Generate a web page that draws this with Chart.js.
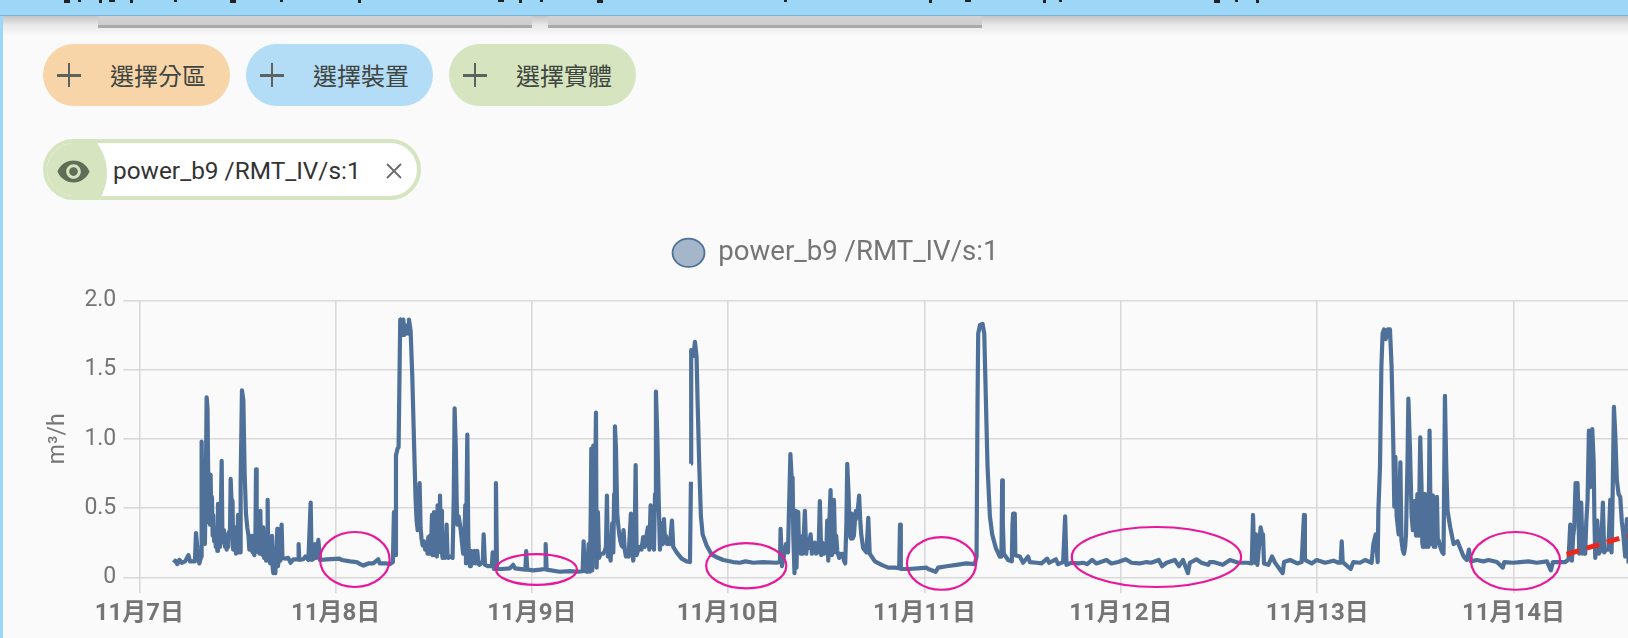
<!DOCTYPE html>
<html lang="zh-Hant">
<head>
<meta charset="utf-8">
<title>power_b9</title>
<script src="https://cdn.jsdelivr.net/npm/chart.js@4/dist/chart.umd.min.js"></script>
<style>
html,body{margin:0;padding:0;width:1628px;height:638px;overflow:hidden;background:#fafafa;font-family:Roboto,"Noto Sans CJK TC",sans-serif}
body{filter:blur(.45px)}
.abs{position:absolute}
#edge{left:0;top:0;width:3px;height:638px;background:#9dd7f8}
#bar{left:0;top:0;width:1628px;height:15px;background:#9dd7f8;border-bottom:1px solid #7fb3d6;z-index:3}
#shade{left:3px;top:16px;width:1625px;height:20px;background:linear-gradient(#c4c4c4,#e8e8e8 45%,#fafafa)}
.tab{top:25px;height:2.5px;background:#a9a9a9}
.tabs{top:16px;height:10px;background:linear-gradient(#d2d2d2,#cdcdcd)}
.mark{top:0;background:#222;z-index:4}
.btn{top:44px;height:62px;border-radius:31px;width:187px}
.plus{top:63px;width:24px;height:24px;}
.plus:before,.plus:after{content:"";position:absolute;background:#5d625c}
.plus:before{left:0;top:11px;width:24px;height:2.5px}
.plus:after{left:10.8px;top:0;width:2.5px;height:24px}
.lbl{top:59px;font:400 24px/32px "Noto Sans CJK TC";color:#3f4540;white-space:nowrap}
#chip{left:43px;top:139px;width:378px;height:61px;box-sizing:border-box;border:4px solid #d6e5bf;border-radius:31px;background:#fff;overflow:hidden}
#chipL{left:-40px;top:-20px;width:100px;height:100px;border-radius:50%;background:#d6e5bf}
#eye{left:56px;top:154px;width:35px;height:35px}
#chipT{left:113px;top:155px;font:400 24.4px/32px Roboto;color:#333;white-space:nowrap}
#chipX{left:385px;top:162px;width:18px;height:18px}
#cv{position:absolute;left:43px;top:215px}
</style>
</head>
<body>
<div class="abs" id="shade"></div>
<div class="abs tabs" style="left:98px;width:434px"></div>
<div class="abs tabs" style="left:548px;width:434px"></div>
<div class="abs tab" style="left:98px;width:434px"></div>
<div class="abs tab" style="left:548px;width:434px"></div>
<div class="abs" id="bar"></div>
<div class="abs" id="edge"></div>
<div id="marks"></div>

<div class="abs btn" style="left:43px;background:#f8d5a9"></div>
<div class="abs plus" style="left:57px"></div>
<div class="abs lbl" style="left:110px">選擇分區</div>
<div class="abs btn" style="left:246px;background:#b3dcf7"></div>
<div class="abs plus" style="left:260px"></div>
<div class="abs lbl" style="left:313px">選擇裝置</div>
<div class="abs btn" style="left:449px;background:#d6e5bf"></div>
<div class="abs plus" style="left:463px"></div>
<div class="abs lbl" style="left:516px">選擇實體</div>

<div class="abs" id="chip"><div class="abs" id="chipL"></div></div>
<svg class="abs" id="eye" viewBox="0 0 24 24"><path fill="#5f6f57" d="M12 4.5C7 4.5 2.73 7.61 1 12c1.73 4.39 6 7.5 11 7.5s9.27-3.11 11-7.5c-1.73-4.39-6-7.5-11-7.5zM12 17c-2.76 0-5-2.24-5-5s2.24-5 5-5 5 2.24 5 5-2.24 5-5 5zm0-8c-1.66 0-3 1.34-3 3s1.34 3 3 3 3-1.34 3-3-1.34-3-3-3z"/></svg>
<div class="abs" id="chipT">power_b9 /RMT_IV/s:1</div>
<svg class="abs" id="chipX" viewBox="0 0 18 18"><path d="M2 2L16 16M16 2L2 16" stroke="#6a6a6a" stroke-width="1.8"/></svg>

<canvas id="cv" width="1585" height="423" style="width:1585px;height:423px"></canvas>

<script>
const seriesName = 'power_b9 /RMT_IV/s:1';
const yTitle = 'm³/h';
const xTickLabels = ['11月7日','11月8日','11月9日','11月10日','11月11日','11月12日','11月13日','11月14日'];

// Readings as [hours since 11月7日 00:00, m³/h].
const nov7 = [[4.2,.105],[4.4,.12],[4.65,.095],[4.9,.125],[5.2,.105],[5.6,.115],[6.0,.16],[6.2,.115],[6.8,.115],[6.93,.32],[7.1,.21],[7.34,.10],[7.58,.15],[7.62,.98],[7.72,.45],[7.8,.62],[7.88,.30],[7.95,.55],[8.02,.24],[8.12,.60],[8.23,1.30],[8.34,1.22],[8.42,.75],[8.48,.40],[8.56,.62],[8.64,.38],[8.72,.74],[8.8,.40],[8.88,.58],[8.97,.30],[9.05,.45],[9.15,.26],[9.25,.36],[9.35,.22],[9.45,.32],[9.54,.19],[9.62,.53],[9.7,.24],[9.78,.52],[9.86,.22],[9.95,.40],[10.07,.84],[10.15,.35],[10.25,.25],[10.35,.34],[10.48,.22],[10.58,.31],[10.68,.20],[10.78,.30],[10.88,.22],[10.98,.33],[11.08,.30],[11.17,.71],[11.27,.56],[11.33,.30],[11.4,.55],[11.47,.20],[11.58,.32],[11.7,.36],[11.82,.17],[11.92,.36],[12.0,.20],[12.07,.45],[12.17,.18],[12.27,.40],[12.33,.18],[12.39,.69],[12.55,1.35],[12.72,1.28],[12.88,.75],[13.04,.46],[13.2,.36],[13.35,.30],[13.45,.20],[13.55,.28],[13.65,.20],[13.75,.30],[13.85,.18],[13.95,.28],[14.06,.16],[14.2,.30],[14.27,.78],[14.35,.22],[14.45,.33],[14.55,.18],[14.63,.34],[14.72,.17],[14.8,.48],[14.88,.17],[15,.32],[15.1,.16],[15.16,.36],[15.25,.14],[15.37,.30],[15.5,.12],[15.62,.25],[15.69,.56],[15.77,.12],[15.9,.22],[16.0,.10],[16.1,.18],[16.22,.30],[16.32,.06],[16.39,.03],[16.5,.14],[16.63,.03],[16.72,.14],[16.87,.35],[16.95,.08],[17.1,.15],[17.25,.12],[17.4,.38],[17.5,.14],[17.8,.135],[18.2,.14],[18.5,.105],[18.83,.13],[19.44,.13],[19.48,.24],[19.56,.125],[20.05,.13],[20.3,.15],[20.67,.125],[20.95,.54],[21.07,.125],[21.44,.14],[21.48,.24],[21.68,.14],[21.89,.27],[22.09,.125],[22.9,.13],[24.5,.135]];
const nov8 = [[24.74,.125],[25.76,.115],[26.57,.11],[27,.095],[27.4,.085],[28,.10],[28.6,.10],[29.2,.13],[29.4,.10],[30.2,.10],[30.65,.095],[31,.11],[31.13,.47],[31.3,.16],[31.38,.88],[31.58,.93],[31.7,.94],[31.9,1.86],[31.97,1.76],[32.03,1.80],[32.15,1.75],[32.28,1.86],[32.4,1.75],[32.5,1.82],[32.6,1.76],[32.76,1.80],[32.88,1.76],[32.97,1.86],[33.17,1.78],[33.38,1.44],[33.58,.99],[33.78,.56],[33.9,.41],[34.03,.34],[34.15,.50],[34.27,.68],[34.39,.36],[34.5,.28],[34.64,.23],[34.8,.26],[34.95,.20],[35.13,.22],[35.25,.17],[35.33,.29],[35.45,.17],[35.53,.30],[35.65,.17],[35.78,.45],[35.86,.16],[35.94,.40],[36.02,.47],[36.12,.16],[36.27,.42],[36.38,.15],[36.47,.52],[36.55,.18],[36.65,.48],[36.76,.59],[36.85,.30],[36.92,.48],[37.0,.18],[37.08,.14],[37.25,.27],[37.37,.14],[37.47,.26],[37.57,.38],[37.68,.15],[37.78,.14],[38.0,.15],[38.3,.14],[38.45,.60],[38.55,1.22],[38.7,.92],[38.8,.55],[38.88,.38],[38.96,.42],[39.04,.44],[39.15,.40],[39.28,.35],[39.4,.28],[39.5,.22],[39.6,.17],[39.75,.30],[39.85,.52],[39.94,.10],[40.02,.60],[40.1,1.03],[40.22,.27],[40.32,.15],[40.43,.08],[40.53,.12],[40.63,.19],[40.75,.10],[40.87,.12],[41.0,.19],[41.1,.10],[41.32,.19],[41.45,.10],[41.57,.09],[41.8,.10],[42.0,.12],[42.1,.31],[42.26,.09],[42.6,.08],[42.87,.08],[43.1,.08],[43.2,.18],[43.36,.06],[43.5,.06],[43.6,.68],[43.73,.06],[44.3,.06],[45.3,.065],[45.7,.09],[45.93,.065],[47.2,.055],[47.3,.19],[47.43,.055]];
const nov9 = [[48.17,.05],[49,.055],[49.6,.06],[49.68,.24],[49.8,.055],[51.4,.04],[52.65,.045],[53.67,.04],[54.2,.045],[54.32,.26],[54.44,.045],[54.77,.04],[54.93,.24],[55.09,.04],[55.2,.50],[55.26,.93],[55.38,.05],[55.5,.95],[55.66,.31],[55.83,1.19],[55.91,.07],[56.07,.47],[56.2,.14],[56.4,.17],[56.72,.17],[56.9,.19],[57.05,.22],[57.17,.59],[57.29,.15],[57.45,.18],[57.62,.12],[57.75,.28],[57.82,.39],[57.95,.18],[58.05,.60],[58.15,1.09],[58.27,.94],[58.43,.46],[58.55,.38],[58.68,.31],[58.82,.26],[58.96,.23],[59.08,.22],[59.2,.34],[59.35,.20],[59.49,.15],[59.65,.17],[59.82,.15],[59.95,.30],[60.1,.46],[60.25,.20],[60.39,.12],[60.55,.25],[60.68,.81],[60.8,.16],[61,.20],[61.2,.22],[61.4,.20],[61.6,.29],[61.82,.22],[62,.30],[62.18,.36],[62.35,.20],[62.51,.52],[62.67,.22],[62.8,.40],[62.92,.20],[63.05,.60],[63.16,1.34],[63.32,1.04],[63.53,.48],[63.65,.20],[63.75,.35],[63.85,.39],[63.98,.24],[64.14,.42],[64.28,.25],[64.38,.30],[64.52,.24],[64.67,.28],[64.87,.24],[65.12,.41],[65.28,.22],[65.69,.18],[66.3,.135],[66.91,.115],[67.32,.11],[67.44,.69],[67.445,null],[67.45,.82],[67.47,1.64],[67.75,1.60],[67.93,1.70],[68.13,1.59],[68.25,1.28],[68.46,.80],[68.66,.44],[68.87,.31],[69.36,.23],[69.97,.165],[70.58,.145],[71.4,.125]];
const nov10 = [[72.6,.11],[73.43,.105],[74.1,.115],[75.06,.105],[76.28,.11],[77.9,.105],[78.32,.11],[78.4,.35],[78.57,.08],[78.8,.15],[79.05,.24],[79.3,.18],[79.6,.89],[79.75,.72],[79.87,.72],[79.95,.31],[80.1,.03],[80.19,.48],[80.27,.18],[80.35,.07],[80.45,.40],[80.56,.47],[80.66,.18],[80.76,.30],[80.86,.17],[80.97,.25],[81.09,.17],[81.23,.30],[81.37,.48],[81.54,.17],[81.66,.28],[81.78,.21],[81.92,.24],[82.07,.31],[82.23,.17],[82.4,.22],[82.6,.25],[82.75,.17],[82.88,.20],[83.04,.18],[83.2,.55],[83.37,.16],[83.5,.25],[83.6,.24],[83.73,.17],[83.86,.20],[84.0,.20],[84.1,.41],[84.23,.12],[84.38,.42],[84.51,.63],[84.67,.16],[84.8,.40],[84.92,.56],[85.08,.18],[85.2,.30],[85.33,.19],[85.57,.14],[85.8,.17],[85.98,.17],[86.15,.12],[86.3,.10],[86.45,.40],[86.55,.82],[86.71,.60],[86.87,.30],[87.0,.28],[87.1,.46],[87.22,.28],[87.36,.30],[87.5,.42],[87.6,.48],[87.8,.46],[88,.59],[88.13,.42],[88.26,.31],[88.5,.21],[88.9,.18],[89.12,.43],[89.3,.17],[89.93,.115],[90.75,.09],[91.56,.07],[92.4,.07],[92.9,.065],[93,.38],[93.1,.06],[94,.06],[95.2,.065]];
const nov11 = [[96.25,.07],[96.45,.06],[97.35,.04],[97.67,.07],[98.7,.08],[99.9,.09],[101.1,.10],[102.15,.095],[102.36,.15],[102.48,1.28],[102.56,1.76],[102.77,1.82],[103.09,1.83],[103.3,1.76],[103.5,1.28],[103.7,.80],[103.99,.44],[104.27,.31],[104.72,.21],[105.2,.15],[105.4,.15],[105.49,.70],[105.57,.39],[105.69,.17],[106.22,.125],[106.67,.115],[106.75,.38],[106.83,.46],[107.03,.46],[107.1,.16],[107.65,.15],[108.05,.105],[108.66,.15],[108.87,.11],[109.68,.105],[110.3,.10],[110.99,.135],[111.23,.105],[112.05,.13],[112.33,.095],[112.94,.11],[113.19,.44],[113.35,.09],[113.96,.105],[114.78,.10],[115.4,.105],[115.88,.095],[116.49,.125],[117,.10],[118.24,.125],[118.85,.10]];
const nov12 = [[119.67,.11],[120.6,.13],[121.3,.105],[122.3,.10],[123.13,.11],[123.7,.105],[124.64,.125],[125.05,.08],[125.58,.105],[126.6,.125],[127.1,.08],[127.6,.125],[128.2,.03],[128.43,.105],[129.24,.13],[129.85,.105],[130.67,.09],[130.87,.11],[131.3,.11],[132.45,.09],[133.35,.125],[134.36,.105],[135.4,.105],[136,.10],[136.16,.45],[136.32,.105],[136.52,.31],[136.69,.09],[137.09,.36],[137.26,.31],[137.38,.31],[137.5,.10],[138.03,.09],[138.48,.15],[138.85,.105],[139.78,.03],[139.95,.11],[140.68,.125],[141.58,.10],[142.1,.11],[142.39,.45],[142.5,.125],[143.33,.10]];
const nov13 = [[143.94,.125],[144.96,.105],[146,.12],[146.6,.105],[146.87,.105],[147,.26],[147.12,.11],[148.1,.06],[148.42,.11],[149.24,.105],[149.85,.125],[150.66,.105],[150.87,.24],[151.15,.31],[151.4,.11],[151.48,.48],[151.68,.80],[151.85,1.52],[152.0,1.76],[152.17,1.79],[152.38,1.72],[152.62,1.79],[152.9,1.79],[153.1,1.52],[153.3,.99],[153.43,.51],[153.56,.87],[153.72,.44],[153.96,.31],[154.08,.60],[154.17,.83],[154.3,.27],[154.45,.20],[154.62,.17],[154.75,.22],[154.86,.31],[155.05,.85],[155.15,1.29],[155.35,.92],[155.55,.44],[155.7,.34],[155.9,.55],[156.09,.30],[156.25,.60],[156.4,.30],[156.5,.60],[156.6,1.01],[156.76,.65],[156.85,.25],[156.93,.22],[157.02,.50],[157.09,.60],[157.18,.22],[157.3,.50],[157.4,.22],[157.5,.59],[157.6,.22],[157.74,1.06],[157.9,.24],[158.0,.58],[158.15,.59],[158.25,.22],[158.35,.55],[158.45,.22],[158.64,.58],[158.75,.25],[158.84,.27],[159.1,.21],[159.3,.18],[159.45,.17],[159.62,1.31],[159.78,.80],[159.94,.48],[160.27,.36],[160.68,.24],[161.16,.26],[161.49,.21],[161.9,.15],[162.3,.125],[162.55,.20],[162.8,.115],[163.5,.125],[164.34,.115],[164.95,.125],[165.97,.11],[166.7,.07],[166.87,.11]];
const nov14 = [[168,.105],[168.8,.11],[169.84,.115],[170.86,.105],[172.09,.115],[172.57,.05],[172.82,.11],[173.7,.11],[174.33,.11],[174.73,.13],[174.94,.38],[175.14,.12],[175.3,.30],[175.43,.36],[175.59,.68],[175.83,.68],[175.95,.45],[176.04,.17],[176.16,.40],[176.28,.54],[176.45,.17],[176.6,.22],[176.77,.17],[176.9,.40],[177.06,.56],[177.22,1.06],[177.38,.65],[177.5,.70],[177.63,1.07],[177.8,.84],[177.9,.40],[178,.14],[178.24,.41],[178.44,.17],[178.7,.20],[178.93,.54],[179.09,.18],[179.3,.20],[179.6,.20],[179.83,.56],[179.99,.18],[180.1,.50],[180.28,1.23],[180.44,1.04],[180.64,.70],[180.85,.60],[181.05,.58],[181.25,.40],[181.38,.34],[181.66,.15],[181.86,.42],[182.07,.10]];
const readings = [...nov7,...nov8,...nov9,...nov10,...nov11,...nov12,...nov13,...nov14];

// hand-drawn annotations, in the same hours and m³/h units
const arrowHours = [174.5, 182];
const arrowFlow = [.166, .30];
const circleFromHour = [22.1, 43.6, 69.3, 93.85, 114, 162.8];
const circleToHour = [30.6, 53.5, 79.1, 102.3, 134.7, 173.7];
const circleLowFlow = [-.07, -.055, -.08, -.09, -.07, -.09];
const circleHighFlow = [.327, .168, .247, .29, .363, .327];
const clippedTextMarks = [64,78,99,109,130,174,230,280,358,498,519,540,597,784,929,965,1043,1059,1214,1235,1256];

clippedTextMarks.forEach((x,i)=>{
  const d=document.createElement('div');
  d.className='abs mark';
  d.style.left=x+'px';
  d.style.width=(i%3===0?6:3)+'px';
  d.style.height=(i%2===0?3:2)+'px';
  document.getElementById('marks').appendChild(d);
});

const circles = {
  id:'circles',
  afterDatasetsDraw(chart){
    const {ctx,scales:{x,y}} = chart;
    ctx.save();
    ctx.strokeStyle='#e9189b';
    ctx.lineWidth=2.2;
    circleFromHour.forEach((from,i)=>{
      const x0=x.getPixelForValue(from), x1=x.getPixelForValue(circleToHour[i]);
      const y0=y.getPixelForValue(circleHighFlow[i]), y1=y.getPixelForValue(circleLowFlow[i]);
      ctx.beginPath();
      ctx.ellipse((x0+x1)/2,(y0+y1)/2,(x1-x0)/2,(y1-y0)/2,0,0,Math.PI*2);
      ctx.stroke();
    });
    ctx.restore();
  }
};
const legendHeight = {
  id:'legendHeight',
  beforeInit(chart){
    const fit=chart.legend.fit;
    chart.legend.fit=function(){fit.call(this);this.height=85.3;};
  }
};

const fontFamily='Roboto,"Noto Sans CJK TC",sans-serif';
const grey='#757575';
new Chart(document.getElementById('cv'),{
  type:'line',
  data:{datasets:[
    {label:'annotation',data:arrowHours.map((h,i)=>({x:h,y:arrowFlow[i]})),borderColor:'#e8281c',borderWidth:5,borderDash:[13,8],pointRadius:0,order:0},
    {label:seriesName,data:readings.map(r=>({x:r[0],y:r[1]})),borderColor:'#4f7199',backgroundColor:'rgba(79,113,153,.5)',borderWidth:4.2,pointRadius:0,tension:0,spanGaps:false,borderJoinStyle:'round',order:1}
  ]},
  options:{
    responsive:false,animation:false,
    layout:{padding:0},
    plugins:{
      title:{display:false},tooltip:{enabled:false},
      legend:{display:true,position:'top',
        labels:{
          generateLabels(chart){
            return Chart.defaults.plugins.legend.labels.generateLabels(chart).map(l=>({...l,lineWidth:1.8}));
          },
          filter:item=>item.text===seriesName,usePointStyle:true,pointStyle:'circle',pointStyleWidth:32,boxHeight:20,padding:24,color:grey,font:{family:fontFamily,size:27.6}}
      }
    },
    scales:{
      x:{type:'linear',min:0,max:182,
        afterFit(s){s.height=60.7;},
        afterBuildTicks(s){s.ticks=xTickLabels.map((_,i)=>({value:i*24}));},
        grid:{color:'#d9d9d9',lineWidth:1.6,tickLength:16,tickColor:'#d9d9d9',drawOnChartArea:true},
        border:{display:false},
        ticks:{autoSkip:false,maxRotation:0,minRotation:0,color:grey,padding:6,font:{family:fontFamily,size:24,weight:'bold'},
          callback:v=>xTickLabels[v/24]}
      },
      y:{min:0,max:2,
        afterFit(s){s.width=96.3;},
        title:{display:true,text:yTitle,color:grey,padding:{top:1,bottom:0},font:{family:fontFamily,size:23}},
        grid:{color:'#d9d9d9',lineWidth:1.6,tickLength:16,tickColor:'#d9d9d9'},
        border:{display:false},
        ticks:{stepSize:.5,color:grey,padding:7,font:{family:fontFamily,size:23},
          callback:v=>v===0?'0':v.toFixed(1)}
      }
    }
  },
  plugins:[circles,legendHeight]
});
</script>
</body>
</html>
